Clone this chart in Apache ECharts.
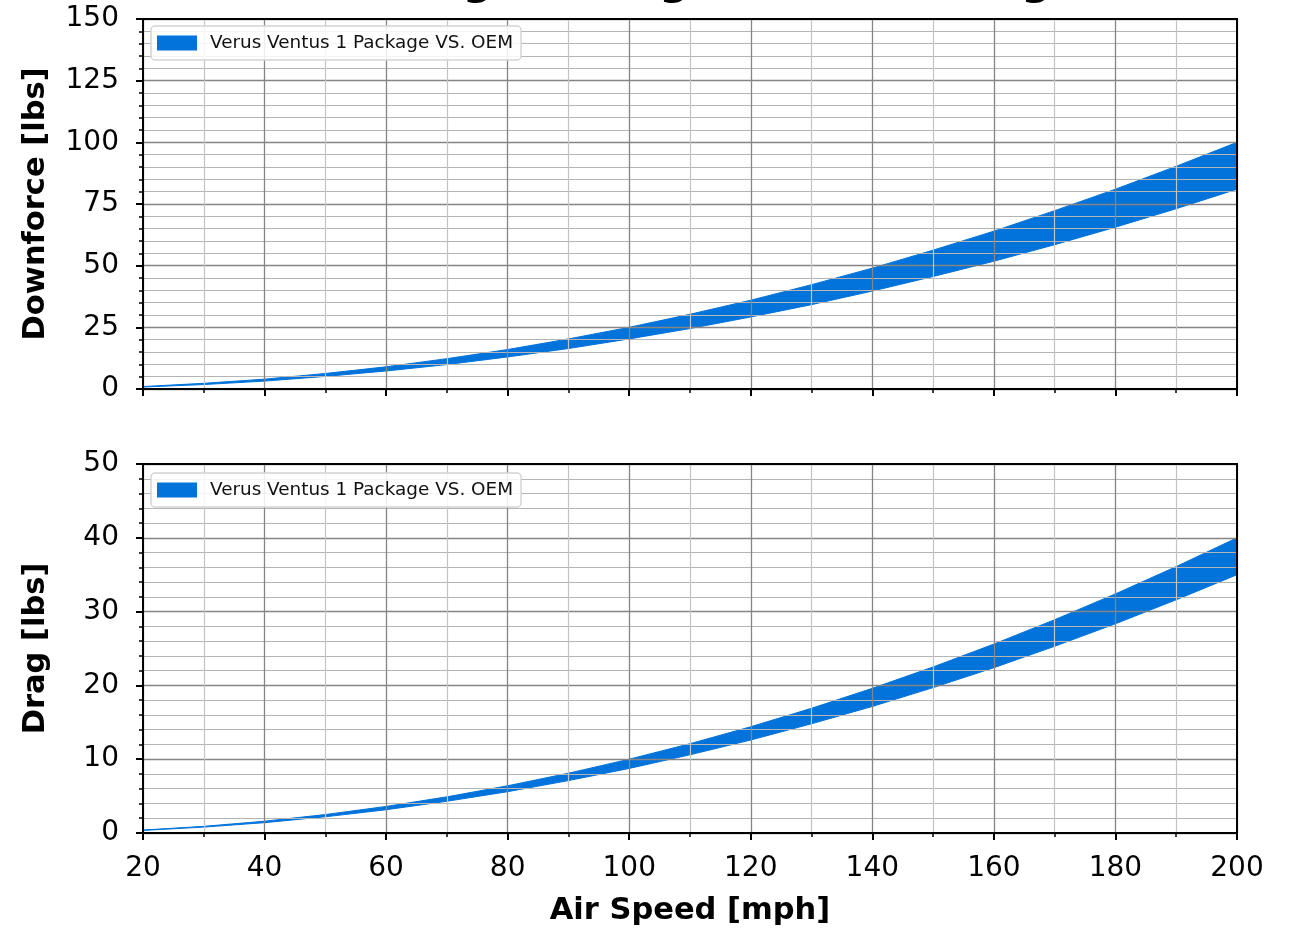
<!DOCTYPE html>
<html>
<head>
<meta charset="utf-8">
<title>Verus Engineering Ventus Packages</title>
<script src="https://cdn.jsdelivr.net/npm/echarts@6/dist/echarts.min.js"></script>
<style>
  html, body { margin: 0; padding: 0; background: #fff; }
  #main { width: 1293px; height: 928px; }
</style>
</head>
<body>
<div id="main"></div>
<script>
// air speed [mph]
var speeds = [20, 30, 40, 50, 60, 70, 80, 90, 100, 110, 120, 130, 140, 150, 160, 170, 180, 190, 200];
// downforce [lbs]: Ventus 1 (upper edge) and OEM (lower edge)
var downVentus = [1.0, 2.3, 4.0, 6.3, 9.0, 12.3, 16.0, 20.3, 25.0, 30.3, 36.0, 42.3, 49.0, 56.3, 64.0, 72.3, 81.0, 90.3, 100.0];
var downOem = [0.8, 1.8, 3.2, 5.1, 7.3, 9.9, 13.0, 16.4, 20.3, 24.5, 29.2, 34.2, 39.7, 45.6, 51.8, 58.5, 65.6, 73.1, 81.0];
// drag [lbs]
var dragVentus = [0.4, 0.9, 1.6, 2.5, 3.6, 4.9, 6.4, 8.1, 10.0, 12.1, 14.4, 16.9, 19.6, 22.5, 25.6, 28.9, 32.4, 36.1, 40.0];
var dragOem = [0.35, 0.8, 1.4, 2.2, 3.15, 4.3, 5.6, 7.1, 8.75, 10.6, 12.6, 14.8, 17.15, 19.7, 22.4, 25.3, 28.35, 31.6, 35.0];

var bandName = 'Verus Ventus 1 Package VS. OEM';
var blue = '#0173da';
var font = 'DejaVu Sans';

function pairs(ys) {
	return speeds.map(function (x, i) { return [x, ys[i]]; });
}

function xAxisOf(idx, showLabels) {
	return {
		type: 'value',
		gridIndex: idx,
		min: 20,
		max: 200,
		interval: 20,
		z: 5,
		name: showLabels ? 'Air Speed [mph]' : '',
		nameLocation: 'middle',
		nameGap: 63,
		nameTextStyle: { fontFamily: font, fontSize: 30.5, fontWeight: 'bold', color: '#000' },
		axisLine: { show: true, onZero: false, lineStyle: { color: '#000', width: 2 } },
		axisTick: { show: true, length: 7, lineStyle: { color: '#000', width: 2 } },
		minorTick: { show: true, splitNumber: 2, length: 4, lineStyle: { color: '#000', width: 1.5 } },
		axisLabel: { show: showLabels, margin: 22, fontFamily: font, fontSize: 28, color: '#000' },
		splitLine: { show: true, lineStyle: { color: '#858585', width: 1.3 } },
		minorSplitLine: { show: true, lineStyle: { color: '#c4c4c4', width: 1.2 } }
	};
}

function yAxisOf(idx, name, max, interval) {
	return {
		type: 'value',
		gridIndex: idx,
		min: 0,
		max: max,
		interval: interval,
		z: 5,
		name: name,
		nameLocation: 'middle',
		nameGap: 91,
		nameTextStyle: { fontFamily: font, fontSize: 30.5, fontWeight: 'bold', color: '#000' },
		axisLine: { show: true, onZero: false, lineStyle: { color: '#000', width: 2 } },
		axisTick: { show: true, length: 7, lineStyle: { color: '#000', width: 2 } },
		minorTick: { show: true, splitNumber: 5, length: 4, lineStyle: { color: '#000', width: 1.5 } },
		axisLabel: { margin: 24, fontFamily: font, fontSize: 28, color: '#000' },
		splitLine: { show: true, lineStyle: { color: '#858585', width: 1.3 } },
		minorSplitLine: { show: true, lineStyle: { color: '#b4b4b4', width: 1.2 } }
	};
}

function legendOf(top) {
	return {
		data: [bandName],
		left: 151,
		top: top,
		z: 20,
		orient: 'vertical',
		icon: 'rect',
		itemWidth: 40,
		itemHeight: 15,
		padding: [8, 8, 8, 6],
		backgroundColor: 'rgba(255,255,255,0.85)',
		borderColor: '#d4d4d4',
		borderWidth: 1.5,
		borderRadius: 4,
		itemStyle: { color: blue, borderWidth: 0 },
		lineStyle: { opacity: 0 },
		textStyle: { fontFamily: font, fontSize: 18.4, color: '#111', padding: [0, 0, 0, 8] },
		selectedMode: false
	};
}

// Ventus edge filled blue down to zero, OEM edge filled white on top of it:
// the gap between the two reads as the band; grid lines sit above both.
function bandSeries(idx, hi, lo) {
	return [
		{
			name: bandName,
			type: 'line',
			xAxisIndex: idx,
			yAxisIndex: idx,
			data: pairs(hi),
			showSymbol: false,
			itemStyle: { color: blue },
			lineStyle: { color: blue, width: 1 },
			areaStyle: { color: blue, opacity: 1 },
			z: 2
		},
		{
			name: 'oem' + idx,
			type: 'line',
			xAxisIndex: idx,
			yAxisIndex: idx,
			data: pairs(lo),
			showSymbol: false,
			itemStyle: { color: blue },
			lineStyle: { color: blue, width: 1 },
			areaStyle: { color: '#fff', opacity: 1 },
			silent: true,
			z: 3
		}
	];
}

var chart = echarts.init(document.getElementById('main'));

var option = {
	animation: false,
	backgroundColor: '#fff',
	title: {
		text: 'Verus Engineering Ventus Packages',
		left: 680,
		top: -38,
		padding: 0,
		textAlign: 'center',
		textStyle: { fontFamily: font, fontSize: 42, fontWeight: 'bold', color: '#000' }
	},
	legend: [legendOf(26), legendOf(473)],
	grid: [
		{ left: 143, right: 56, top: 19, height: 370, show: true, z: 10, backgroundColor: 'transparent', borderColor: '#000', borderWidth: 2 },
		{ left: 143, right: 56, top: 464, height: 370, show: true, z: 10, backgroundColor: 'transparent', borderColor: '#000', borderWidth: 2 }
	],
	xAxis: [xAxisOf(0, false), xAxisOf(1, true)],
	yAxis: [yAxisOf(0, 'Downforce [lbs]', 150, 25), yAxisOf(1, 'Drag [lbs]', 50, 10)],
	series: bandSeries(0, downVentus, downOem).concat(bandSeries(1, dragVentus, dragOem))
};

chart.setOption(option);
</script>
</body>
</html>
